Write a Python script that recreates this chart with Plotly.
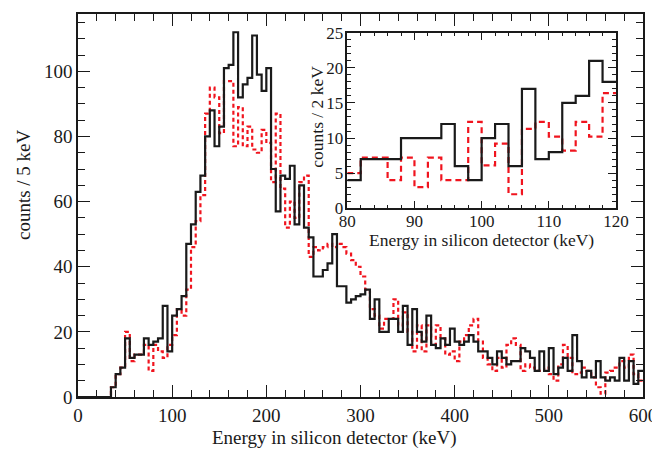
import plotly.graph_objects as go

# ---------------- data ----------------
main_bin_start = 0
main_bin_width = 5
main_black = [0, 0, 0, 0, 0, 0, 0, 3, 7, 9,
              18, 12, 13, 13, 18, 16, 17, 18, 28, 14,
              25, 27, 31, 47, 53, 63, 68, 80, 88, 77,
              83, 101, 102, 112, 92, 96, 98, 111, 99, 94,
              101, 70, 57, 68, 67, 71, 53, 65, 52, 49,
              37, 37, 39, 41, 50, 34, 34, 29, 30, 31,
              31.5, 33, 24, 30, 20, 20, 24, 24, 20, 28,
              16, 27, 20, 17, 25, 16, 15, 18, 16, 21,
              17, 16, 17, 19, 17, 14, 14, 12, 10, 14,
              12, 10, 11, 11, 15, 14, 12, 8, 14, 8,
              15, 7, 9, 12, 8, 19, 11, 6, 8, 6,
              11, 6, 5, 6, 5, 12, 5, 11, 4, 8]
main_red = [0, 0, 0, 0, 0, 0, 0, 3, 7, 9,
            20, 11, 13, 13, 16, 8, 16, 14, 12, 16,
            19, 27, 25, 33, 46, 54, 62, 87, 95, 92,
            81, 97, 97, 77, 89, 77, 83, 76, 75, 82,
            78, 66, 87, 64, 52, 60, 55, 66, 68, 43,
            46, 45, 46, 47, 46, 47, 46, 44, 42, 40,
            37, 33, 27, 25, 21, 24, 24, 30, 22, 26,
            20, 14, 22, 14, 22, 16, 22, 18, 13, 14,
            11, 17, 19, 22, 24, 17, 12, 10, 8, 12,
            9, 16, 18, 16, 8, 10, 9, 8, 8, 9,
            7, 5, 10, 16, 12, 7, 7.5, 9, 8, 6,
            3, 1, 7.5, 8, 9, 11, 9, 13, 7, 5]

inset_bin_start = 80
inset_bin_width = 2
inset_black = [4, 7, 7, 7, 10, 10, 10, 12, 6, 4,
               10, 12, 6, 17, 7, 8, 15, 16, 21, 18]
inset_red = [5, 7.2, 7.2, 4, 7.2, 3, 7.2, 4, 4, 12.3,
             6.1, 9.2, 2, 11.3, 12.3, 10.2, 8.2, 12.3, 10.2, 16.4]

main_xticks = [0, 100, 200, 300, 400, 500, 600]
main_yticks = [0, 20, 40, 60, 80, 100]
inset_xticks = [80, 90, 100, 110, 120]
inset_yticks = [0, 5, 10, 15, 20, 25]

x_title = "Energy in silicon detector (keV)"
main_y_title = "counts / 5 keV"
inset_y_title = "counts / 2 keV"


def edges(start, width, n):
    return [start + width * i for i in range(n + 1)]


def step_y(vals):
    return list(vals) + [vals[-1]]


FONT = "Liberation Serif"
BLACK = "#1a1a1a"
RED = "#f0141e"

fig = go.Figure()

me = edges(main_bin_start, main_bin_width, len(main_black))
fig.add_trace(go.Scatter(x=me, y=step_y(main_red), mode="lines", line_shape="hv",
                         line=dict(color=RED, width=2.2, dash="4px,3px"),
                         xaxis="x", yaxis="y", showlegend=False, hoverinfo="skip"))
fig.add_trace(go.Scatter(x=me, y=step_y(main_black), mode="lines", line_shape="hv",
                         line=dict(color=BLACK, width=2.2),
                         xaxis="x", yaxis="y", showlegend=False, hoverinfo="skip"))

ie = edges(inset_bin_start, inset_bin_width, len(inset_black))
fig.add_trace(go.Scatter(x=ie, y=step_y(inset_red), mode="lines", line_shape="hv",
                         line=dict(color=RED, width=2.2, dash="6px,4px"),
                         xaxis="x2", yaxis="y2", showlegend=False, hoverinfo="skip"))
fig.add_trace(go.Scatter(x=ie, y=step_y(inset_black), mode="lines", line_shape="hv",
                         line=dict(color=BLACK, width=2.2),
                         xaxis="x2", yaxis="y2", showlegend=False, hoverinfo="skip"))

axis_common = dict(showgrid=False, zeroline=False, showline=True, linecolor=BLACK,
                   linewidth=1.5, mirror="allticks", ticks="inside", tickcolor=BLACK,
                   tickwidth=1.3, color=BLACK)

# page body has an 8px margin: figure is sized so the plot lands where the reference has it
fig.update_layout(
    width=652, height=441,
    margin=dict(l=70, r=17, t=6, b=52, autoexpand=False),
    paper_bgcolor="white", plot_bgcolor="white",
    font=dict(family=FONT, size=19, color=BLACK),
    xaxis=dict(axis_common, domain=[0, 1], range=[0, 600], tickvals=main_xticks,
               ticklen=12, tickfont=dict(size=19),
               minor=dict(dtick=20, ticklen=7, ticks="inside", tickcolor=BLACK, tickwidth=1.2),
               automargin=False, anchor="y"),
    yaxis=dict(axis_common, domain=[0, 1], range=[0, 117.6], tickvals=main_yticks,
               ticklen=12, tickfont=dict(size=19),
               minor=dict(dtick=5, ticklen=7, ticks="inside", tickcolor=BLACK, tickwidth=1.2),
               automargin=False, anchor="x"),
    xaxis2=dict(axis_common, domain=[0.4766, 0.9522], range=[80, 120], tickvals=inset_xticks,
                ticklen=8, tickfont=dict(size=17), ticklabelstandoff=-3,
                minor=dict(dtick=2, ticklen=4, ticks="inside", tickcolor=BLACK, tickwidth=1),
                automargin=False, anchor="y2"),
    yaxis2=dict(axis_common, domain=[0.4927, 0.9512], range=[0, 25], tickvals=inset_yticks,
                ticklen=8, tickfont=dict(size=17), ticklabelstandoff=-1,
                minor=dict(dtick=1, ticklen=4, ticks="inside", tickcolor=BLACK, tickwidth=1),
                automargin=False, anchor="x2"),
    annotations=[
        dict(text=x_title, xref="paper", yref="paper", x=0.453, y=-0.107,
             xanchor="center", yanchor="middle", showarrow=False, font=dict(size=19)),
        dict(text=main_y_title, xref="paper", yref="paper", x=-0.0973, y=0.5535,
             xanchor="center", yanchor="middle", textangle=-90, showarrow=False,
             font=dict(size=19)),
        dict(text=x_title, xref="paper", yref="paper", x=0.715, y=0.411,
             xanchor="center", yanchor="middle", showarrow=False, font=dict(size=17.5)),
        dict(text=inset_y_title, xref="paper", yref="paper", x=0.4225, y=0.731,
             xanchor="center", yanchor="middle", textangle=-90, showarrow=False,
             font=dict(size=17.5)),
    ],
)

fig.write_html("out.html")
